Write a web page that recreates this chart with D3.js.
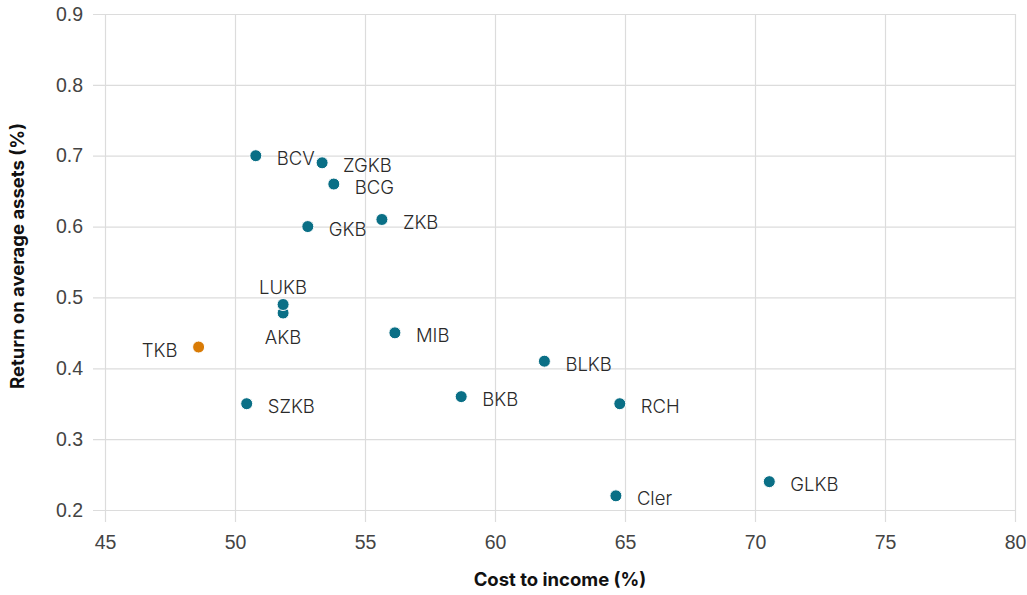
<!DOCTYPE html>
<html>
<head>
<meta charset="utf-8">
<script src="https://cdn.jsdelivr.net/npm/d3@7"></script>
<style>
  body { margin: 0; background: #fff; }
  svg { font-family: Inter, "Noto Sans", sans-serif; }
  .grid line { stroke: #dcdcdc; stroke-width: 1.2; }
  .grid text { fill: #444; font-size: 19.5px; font-weight: 300; }
</style>
</head>
<body>
<div id="chart"></div>
<script>
// Data
const banks = ["BCV", "ZGKB", "BCG", "GKB", "ZKB", "AKB", "LUKB", "TKB", "SZKB", "MIB", "BLKB", "BKB", "RCH", "Cler", "GLKB"];
const costIncome = [50.8, 53.35, 53.8, 52.8, 55.65, 51.85, 51.85, 48.6, 50.45, 56.15, 61.9, 58.7, 64.8, 64.65, 70.55];
const roaa = [0.70, 0.69, 0.66, 0.60, 0.61, 0.478, 0.49, 0.43, 0.35, 0.45, 0.41, 0.36, 0.35, 0.22, 0.24];
const labelSide = ["right", "right", "right", "right", "right", "below", "above", "left", "right", "right", "right", "right", "right", "right", "right"];
const highlight = ["TKB"];

const xTicks = [45, 50, 55, 60, 65, 70, 75, 80];
const yTicks = [0.2, 0.3, 0.4, 0.5, 0.6, 0.7, 0.8, 0.9];

const margin = { top: 14, right: 12, bottom: 85, left: 105 },
      width = 1027 - margin.left - margin.right,
      height = 595 - margin.top - margin.bottom;

const svg = d3.select("#chart")
  .append("svg")
    .attr("width", 1027)
    .attr("height", 595)
  .append("g")
    .attr("transform", "translate(" + margin.left + "," + margin.top + ")");

const xScale = d3.scaleLinear().domain([45, 80]).range([0, width]);
const yScale = d3.scaleLinear().domain([0.2, 0.9]).range([height, 0]);

// vertical gridlines, running a little below the plot
svg.append("g")
    .attr("class", "grid")
    .attr("transform", "translate(0," + (height + 12) + ")")
    .call(d3.axisBottom(xScale)
      .tickValues(xTicks)
      .tickSize(-(height + 12))
      .tickPadding(13)
      .tickFormat(d3.format("d")))
    .call(g => g.select(".domain").remove());

// horizontal gridlines, running a little left of the plot
svg.append("g")
    .attr("class", "grid")
    .attr("transform", "translate(-12,0)")
    .call(d3.axisLeft(yScale)
      .tickValues(yTicks)
      .tickSize(-(width + 12))
      .tickPadding(10)
      .tickFormat(d3.format(".1f")))
    .call(g => g.select(".domain").remove());

const points = banks.map((b, i) => ({
  name: b,
  x: costIncome[i],
  y: roaa[i],
  side: labelSide[i]
}));

// dots
svg.selectAll(".dot")
  .data(points)
  .enter().append("circle")
    .attr("class", "dot")
    .attr("cx", d => xScale(d.x))
    .attr("cy", d => yScale(d.y))
    .attr("r", 6)
    .attr("stroke", "#fff")
    .attr("stroke-width", 1)
    .attr("fill", d => highlight.includes(d.name) ? "#d97b05" : "#0a6f86");

// labels
svg.selectAll(".lbl")
  .data(points)
  .enter().append("text")
    .attr("class", "lbl")
    .attr("x", d => xScale(d.x) + (d.side === "right" ? 21 : d.side === "left" ? -21 : 0))
    .attr("y", d => yScale(d.y) + (d.side === "above" ? -17 : d.side === "below" ? 25 : 3))
    .attr("dy", "0.35em")
    .attr("text-anchor", d => d.side === "right" ? "start" : d.side === "left" ? "end" : "middle")
    .style("font-size", "18.5px")
    .style("font-weight", "300")
    .style("fill", "#2a2a2a")
    .text(d => d.name);

// axis titles
svg.append("text")
    .attr("x", width / 2)
    .attr("y", height + 76)
    .attr("text-anchor", "middle")
    .style("font-size", "18.5px")
    .style("font-weight", "bold")
    .style("fill", "#111")
    .text("Cost to income (%)");

svg.append("text")
    .attr("transform", "rotate(-90)")
    .attr("x", -(256 - margin.top))
    .attr("y", -margin.left + 24)
    .attr("text-anchor", "middle")
    .style("font-size", "18.5px")
    .style("font-weight", "bold")
    .style("fill", "#111")
    .text("Return on average assets (%)");
</script>
</body>
</html>
